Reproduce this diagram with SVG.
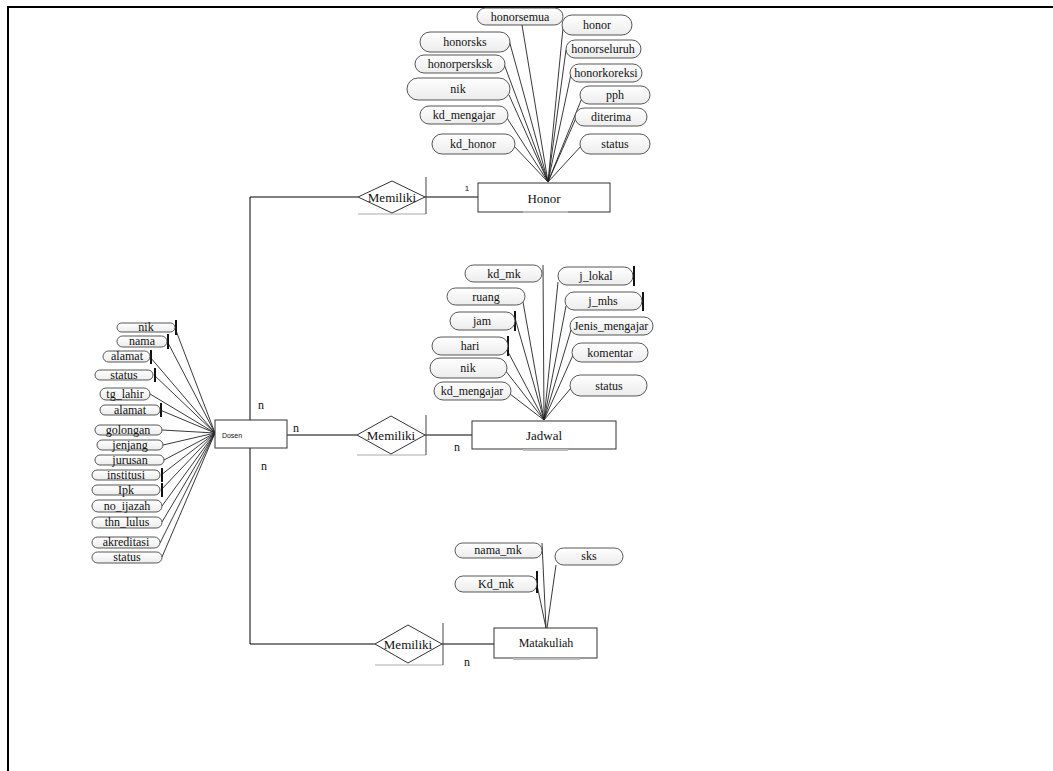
<svg xmlns="http://www.w3.org/2000/svg" width="1053" height="771" viewBox="0 0 1053 771">
<defs>
<linearGradient id="pg" x1="0" y1="0" x2="0" y2="1">
<stop offset="0" stop-color="#ffffff"/>
<stop offset="1" stop-color="#ececec"/>
</linearGradient>
</defs>
<style>
.frame{stroke:#000;stroke-width:2;fill:none}
.ln{stroke:#000;stroke-width:1;fill:none}
.al{stroke:#222;stroke-width:0.9;fill:none}
.bar{stroke:#111;stroke-width:2;fill:none}
.ent{fill:#fff;stroke:#333;stroke-width:1}
.gb{stroke:#bbb;stroke-width:2}
.dia{fill:#fff;stroke:#333;stroke-width:1}
.dsh{stroke:#444;stroke-width:1}
.dsb{stroke:#aaa;stroke-width:1}
.pill{fill:url(#pg);stroke:#444;stroke-width:0.9}
.t{font-family:"Liberation Serif","DejaVu Serif",serif;font-size:12px;fill:#111;text-anchor:middle;dominant-baseline:central}
.tb{font-family:"Liberation Serif","DejaVu Serif",serif;font-size:13px;fill:#111;text-anchor:middle;dominant-baseline:central}
.ts{font-family:"Liberation Sans",sans-serif;font-size:7px;fill:#111;text-anchor:middle;dominant-baseline:central}
.t1{font-family:"Liberation Sans",sans-serif;font-size:8px;fill:#111;text-anchor:middle;dominant-baseline:central}
</style>
<rect width="1053" height="771" fill="#fff"/>
<path class="frame" d="M8 771 V7 H1053"/>

<g id="connectors">
<path class="ln" d="M250 420 V197 H358"/>
<path class="ln" d="M425 197 H478"/>
<path class="ln" d="M287 435 H357"/>
<path class="ln" d="M425 435 H472"/>
<path class="ln" d="M250 448 V644 H375"/>
<path class="ln" d="M442 644 H494"/>
<path class="al" d="M522 25 L548 182 M563 28 L548 182 M509 40 L548 182 M504 64 L548 182 M509 95 L548 182 M507 118 L548 182 M513 145 L548 182 M566 50 L548 182 M571 74 L548 182 M582 98 L548 182 M576 118 L548 182 M582 145 L548 182"/>
<path class="al" d="M543 265 L544 420 M523 302 L544 420 M515 318 L544 420 M507 350 L544 420 M505 370 L544 420 M510 394 L544 420 M558 282 L544 420 M566 306 L544 420 M571 330 L544 420 M573 355 L544 420 M571 388 L544 420"/>
<path class="bar" d="M515 311 V331 M508 336 V356 M643 292 V311 M634 266 V286"/>
<path class="al" d="M542 543 L546 628 M537 585 L546 628 M556 565 L547 628"/>
<path class="bar" d="M537 571 V593"/>
<path class="al" d="M175 328 L215 433 M167 341 L215 433 M150 357 L215 433 M154 375 L215 433 M150 394 L215 433 M160 410 L215 433 M162 430 L215 433 M163 445 L215 433 M164 460 L215 433 M161 475 L215 433 M161 490 L215 433 M162 506 L215 433 M162 522 L215 433 M160 543 L215 433 M162 557 L215 433"/>
<path class="bar" d="M176 320 V335 M168 334 V349 M151 350 V364 M155 368 V382 M161 403 V417 M162 468 V482 M162 483 V497"/>
</g>

<g id="dosen">
<rect class="ent" x="215" y="420" width="72" height="28"/>
<text class="ts" x="232" y="435">Dosen</text>
</g>
<g id="honor">
<rect class="ent" x="478" y="183" width="132" height="29"/>
<line class="gb" x1="523" y1="212" x2="568" y2="212"/>
<text class="tb" x="544" y="198">Honor</text>
</g>
<g id="jadwal">
<rect class="ent" x="472" y="421" width="144" height="28"/>
<line class="gb" x1="523" y1="450" x2="568" y2="450"/>
<text class="tb" x="544" y="435">Jadwal</text>
</g>
<g id="matakuliah">
<rect class="ent" x="494" y="628" width="103" height="30"/>
<line class="gb" x1="513" y1="659" x2="580" y2="659"/>
<text class="t" x="546" y="643">Matakuliah</text>
</g>

<g id="rel-honor">
<line class="dsb" x1="358" y1="214" x2="426" y2="214"/>
<line class="dsh" x1="426" y1="177" x2="426" y2="214"/>
<polygon class="dia" points="358,197 392,181 425,197 392,213"/>
<text class="tb" x="392" y="197">Memiliki</text>
</g>
<g id="rel-jadwal">
<line class="dsb" x1="357" y1="455" x2="426" y2="455"/>
<line class="dsh" x1="426" y1="415" x2="426" y2="455"/>
<polygon class="dia" points="357,435 391,416 425,435 391,454"/>
<text class="tb" x="391" y="435">Memiliki</text>
</g>
<g id="rel-matakuliah">
<line class="dsb" x1="375" y1="665" x2="443" y2="665"/>
<line class="dsh" x1="443" y1="623" x2="443" y2="665"/>
<polygon class="dia" points="375,644 408,625 442,644 408,663"/>
<text class="tb" x="408" y="644">Memiliki</text>
</g>

<g id="cardinalities">
<text class="t1" x="467" y="188">1</text>
<text class="t" x="261" y="405">n</text>
<text class="t" x="296" y="428">n</text>
<text class="t" x="457" y="447">n</text>
<text class="t" x="264" y="466">n</text>
<text class="t" x="467" y="662">n</text>
</g>

<g id="honor-attrs">
<g id="h-honorsemua"><rect class="pill" x="477" y="8" width="86" height="17" rx="8.5"/><text class="t" x="520" y="16.5">honorsemua</text></g>
<g id="h-honor"><rect class="pill" x="562" y="15" width="70" height="20" rx="10"/><text class="t" x="597" y="25">honor</text></g>
<g id="h-honorsks"><rect class="pill" x="420" y="32" width="90" height="20" rx="10"/><text class="t" x="465" y="42">honorsks</text></g>
<g id="h-honorseluruh"><rect class="pill" x="566" y="40" width="75" height="18" rx="9"/><text class="t" x="603" y="49">honorseluruh</text></g>
<g id="h-honorpersksk"><rect class="pill" x="415" y="55" width="90" height="18" rx="9"/><text class="t" x="460" y="64">honorpersksk</text></g>
<g id="h-honorkoreksi"><rect class="pill" x="570" y="64" width="72" height="18" rx="9"/><text class="t" x="606" y="73">honorkoreksi</text></g>
<g id="h-nik"><rect class="pill" x="407" y="78" width="103" height="22" rx="11"/><text class="t" x="458" y="89">nik</text></g>
<g id="h-pph"><rect class="pill" x="580" y="86" width="70" height="18" rx="9"/><text class="t" x="615" y="95">pph</text></g>
<g id="h-kd_mengajar"><rect class="pill" x="420" y="106" width="88" height="18" rx="9"/><text class="t" x="464" y="115">kd_mengajar</text></g>
<g id="h-diterima"><rect class="pill" x="575" y="108" width="72" height="18" rx="9"/><text class="t" x="611" y="117">diterima</text></g>
<g id="h-kd_honor"><rect class="pill" x="432" y="134" width="83" height="20" rx="10"/><text class="t" x="473" y="144">kd_honor</text></g>
<g id="h-status"><rect class="pill" x="580" y="134" width="70" height="20" rx="10"/><text class="t" x="615" y="144">status</text></g>
</g>

<g id="jadwal-attrs">
<g id="j-kd_mk"><rect class="pill" x="465" y="265" width="77" height="17" rx="8.5"/><text class="t" x="504" y="273.5">kd_mk</text></g>
<g id="j-j_lokal"><rect class="pill" x="558" y="267" width="75" height="18" rx="9"/><text class="t" x="596" y="276">j_lokal</text></g>
<g id="j-ruang"><rect class="pill" x="447" y="288" width="78" height="17" rx="8.5"/><text class="t" x="486" y="296.5">ruang</text></g>
<g id="j-j_mhs"><rect class="pill" x="565" y="292" width="77" height="18" rx="9"/><text class="t" x="603" y="301">j_mhs</text></g>
<g id="j-jam"><rect class="pill" x="450" y="312" width="65" height="18" rx="9"/><text class="t" x="482" y="321">jam</text></g>
<g id="j-jenis"><rect class="pill" x="570" y="317" width="83" height="18" rx="9"/><text class="t" x="611" y="326">Jenis_mengajar</text></g>
<g id="j-hari"><rect class="pill" x="432" y="337" width="76" height="18" rx="9"/><text class="t" x="470" y="346">hari</text></g>
<g id="j-komentar"><rect class="pill" x="572" y="343" width="76" height="19" rx="9.5"/><text class="t" x="610" y="352.5">komentar</text></g>
<g id="j-nik"><rect class="pill" x="430" y="358" width="77" height="20" rx="10"/><text class="t" x="468" y="368">nik</text></g>
<g id="j-status"><rect class="pill" x="570" y="375" width="77" height="21" rx="10.5"/><text class="t" x="609" y="385.5">status</text></g>
<g id="j-kd_mengajar"><rect class="pill" x="434" y="382" width="77" height="18" rx="9"/><text class="t" x="472" y="391">kd_mengajar</text></g>
</g>

<g id="matakuliah-attrs">
<g id="m-nama_mk"><rect class="pill" x="455" y="543" width="87" height="15" rx="7.5"/><text class="t" x="498" y="550">nama_mk</text></g>
<g id="m-Kd_mk"><rect class="pill" x="455" y="576" width="82" height="16" rx="8"/><text class="t" x="496" y="583.5">Kd_mk</text></g>
<g id="m-sks"><rect class="pill" x="555" y="548" width="68" height="17" rx="8.5"/><text class="t" x="589" y="556">sks</text></g>
</g>

<g id="dosen-attrs">
<g id="d-nik"><rect class="pill" x="117" y="323" width="58" height="9" rx="4.5"/><text class="t" x="146" y="327">nik</text></g>
<g id="d-nama"><rect class="pill" x="117" y="336" width="50" height="11" rx="5.5"/><text class="t" x="142" y="341">nama</text></g>
<g id="d-alamat1"><rect class="pill" x="103" y="351" width="47" height="11" rx="5.5"/><text class="t" x="127" y="356">alamat</text></g>
<g id="d-status1"><rect class="pill" x="95" y="370" width="58" height="10" rx="5"/><text class="t" x="124" y="375">status</text></g>
<g id="d-tg_lahir"><rect class="pill" x="100" y="388" width="50" height="12" rx="6"/><text class="t" x="125" y="393.5">tg_lahir</text></g>
<g id="d-alamat2"><rect class="pill" x="100" y="405" width="60" height="10" rx="5"/><text class="t" x="130" y="409.5">alamat</text></g>
<g id="d-golongan"><rect class="pill" x="95" y="425" width="67" height="10" rx="5"/><text class="t" x="128" y="429.5">golongan</text></g>
<g id="d-jenjang"><rect class="pill" x="97" y="440" width="66" height="10" rx="5"/><text class="t" x="130" y="444.5">jenjang</text></g>
<g id="d-jurusan"><rect class="pill" x="95" y="455" width="69" height="10" rx="5"/><text class="t" x="130" y="459.5">jurusan</text></g>
<g id="d-institusi"><rect class="pill" x="92" y="470" width="68" height="10" rx="5"/><text class="t" x="126" y="474.5">institusi</text></g>
<g id="d-ipk"><rect class="pill" x="92" y="485" width="68" height="10" rx="5"/><text class="t" x="126" y="489.5">Ipk</text></g>
<g id="d-no_ijazah"><rect class="pill" x="92" y="500" width="70" height="12" rx="6"/><text class="t" x="127" y="505.5">no_ijazah</text></g>
<g id="d-thn_lulus"><rect class="pill" x="92" y="517" width="70" height="11" rx="5.5"/><text class="t" x="127" y="522">thn_lulus</text></g>
<g id="d-akreditasi"><rect class="pill" x="92" y="537" width="68" height="11" rx="5.5"/><text class="t" x="126" y="542">akreditasi</text></g>
<g id="d-status2"><rect class="pill" x="92" y="552" width="70" height="11" rx="5.5"/><text class="t" x="127" y="557">status</text></g>
</g>
</svg>
